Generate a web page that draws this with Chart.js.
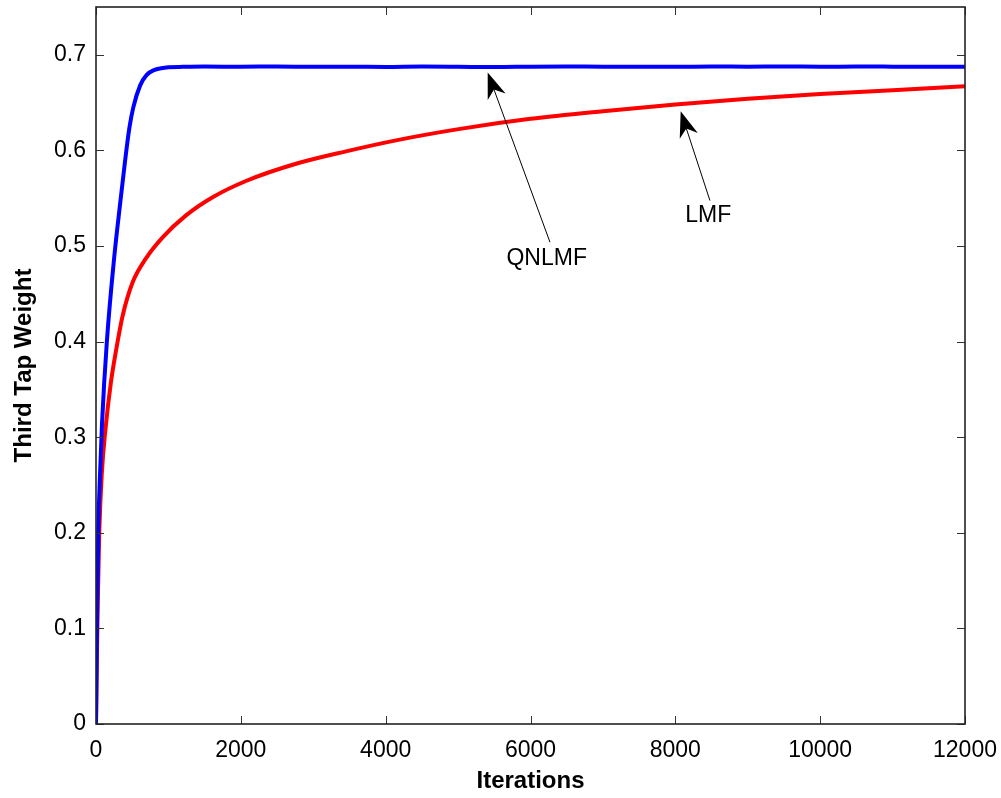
<!DOCTYPE html>
<html>
<head>
<meta charset="utf-8">
<title>Third Tap Weight</title>
<script src="https://cdn.jsdelivr.net/npm/chart.js@4.4.0/dist/chart.umd.min.js"></script>
<style>
    html, body { margin: 0; padding: 0; background: #fff; }
    #wrap { width: 1001px; height: 798px; }
</style>
</head>
<body>
<div id="wrap"><canvas id="tapChart" width="1001" height="798"></canvas></div>
<script>
// QNLMF learning curve (iteration, third tap weight)
const qnlmfIter = [0, 15, 32, 55, 83, 150, 250, 345, 400, 460, 515, 610, 700, 800, 900, 1000, 1200, 1500,
    2000, 2500, 3000, 3500, 4000, 4500, 5000, 5500, 6000, 6500, 7000, 7500, 8000, 8500, 9000,
    9500, 10000, 10500, 11000, 11500, 12000];
const qnlmfWeight = [0, 0.115, 0.204, 0.26, 0.314, 0.4, 0.487, 0.552, 0.588, 0.623, 0.645, 0.668, 0.679, 0.684, 0.686, 0.687, 0.6874, 0.6877,
    0.6875, 0.6878, 0.6874, 0.6876, 0.6873, 0.6877, 0.6875, 0.6872, 0.6876, 0.6878, 0.6875, 0.6876, 0.6874, 0.6877, 0.6876,
    0.6878, 0.6875, 0.6877, 0.6876, 0.6874, 0.6876];

// LMF learning curve
const lmfIter = [0, 10, 25, 45, 80, 129, 207, 280, 368, 506, 690, 920, 1243, 1611, 2071, 2762,
    3452, 4143, 5028, 6000, 7000, 8000, 9000, 10000, 11000, 12000];
const lmfWeight = [0, 0.06, 0.13, 0.2, 0.262, 0.307, 0.358, 0.392, 0.427, 0.462, 0.487, 0.509, 0.532, 0.551, 0.568, 0.586,
    0.599, 0.6105, 0.6225, 0.633, 0.641, 0.648, 0.654, 0.659, 0.663, 0.667];

// axis ticks
const xTicks = [0, 2000, 4000, 6000, 8000, 10000, 12000];
const yTicks = [0, 0.1, 0.2, 0.3, 0.4, 0.5, 0.6, 0.7];

// arrow annotations: label, arrow tip, arrow tail, text centre (data units)
const noteLabels = ['QNLMF', 'LMF'];
const noteTips = [[5409, 0.6816], [8074, 0.641]];
const noteTails = [[6269, 0.504], [8478, 0.5475]];
const noteTexts = [[6224, 0.4866], [8455, 0.5318]];

const FONT = "'Liberation Sans', Arial, Helvetica, sans-serif";

function toPoints(xs, ys) {
    return xs.map((v, i) => ({ x: v, y: ys[i] }));
}

// box around the plot with inward tick marks on all four sides
const framePlugin = {
    id: 'frame',
    afterDatasetsDraw(chart) {
        const { ctx, chartArea: a, scales: { x, y } } = chart;
        const len = 8;
        ctx.save();
        ctx.strokeStyle = '#333';
        ctx.lineWidth = 1;
        ctx.beginPath();
        xTicks.forEach(v => {
            const px = Math.round(x.getPixelForValue(v)) + 0.5;
            ctx.moveTo(px, a.bottom); ctx.lineTo(px, a.bottom - len);
            ctx.moveTo(px, a.top); ctx.lineTo(px, a.top + len);
        });
        yTicks.forEach(v => {
            const py = Math.round(y.getPixelForValue(v)) + 0.5;
            ctx.moveTo(a.left, py); ctx.lineTo(a.left + len, py);
            ctx.moveTo(a.right, py); ctx.lineTo(a.right - len, py);
        });
        ctx.stroke();
        ctx.strokeStyle = '#222';
        ctx.lineWidth = 1.6;
        ctx.strokeRect(a.left, a.top, a.right - a.left, a.bottom - a.top);
        ctx.restore();
    }
};

// text labels with notched arrows pointing at the curves
const arrowPlugin = {
    id: 'arrowNotes',
    afterDatasetsDraw(chart) {
        const { ctx, scales: { x, y } } = chart;
        ctx.save();
        noteLabels.forEach((label, i) => {
            const tx = x.getPixelForValue(noteTips[i][0]);
            const ty = y.getPixelForValue(noteTips[i][1]);
            const sx = x.getPixelForValue(noteTails[i][0]);
            const sy = y.getPixelForValue(noteTails[i][1]);
            const dx = tx - sx, dy = ty - sy;
            const d = Math.hypot(dx, dy);
            const ux = dx / d, uy = dy / d;
            const nx = -uy, ny = ux;
            const headLen = 26, headHalf = 9.5;

            ctx.strokeStyle = '#000';
            ctx.lineWidth = 1;
            ctx.beginPath();
            ctx.moveTo(sx, sy);
            ctx.lineTo(tx - ux * headLen * 0.6, ty - uy * headLen * 0.6);
            ctx.stroke();

            ctx.fillStyle = '#000';
            ctx.beginPath();
            ctx.moveTo(tx, ty);
            ctx.lineTo(tx - ux * headLen + nx * headHalf, ty - uy * headLen + ny * headHalf);
            ctx.lineTo(tx - ux * headLen * 0.7, ty - uy * headLen * 0.7);
            ctx.lineTo(tx - ux * headLen - nx * headHalf, ty - uy * headLen - ny * headHalf);
            ctx.closePath();
            ctx.fill();

            ctx.font = '23px ' + FONT;
            ctx.textAlign = 'center';
            ctx.textBaseline = 'middle';
            ctx.fillText(label, x.getPixelForValue(noteTexts[i][0]), y.getPixelForValue(noteTexts[i][1]));
        });
        ctx.restore();
    }
};

const ctx = document.getElementById('tapChart').getContext('2d');

new Chart(ctx, {
    type: 'line',
    data: {
        datasets: [{
            label: 'QNLMF',
            data: toPoints(qnlmfIter, qnlmfWeight),
            borderColor: '#0000ff',
            borderWidth: 4,
            pointRadius: 0,
            cubicInterpolationMode: 'monotone',
            fill: false
        }, {
            label: 'LMF',
            data: toPoints(lmfIter, lmfWeight),
            borderColor: '#ff0000',
            borderWidth: 4,
            pointRadius: 0,
            cubicInterpolationMode: 'monotone',
            fill: false
        }]
    },
    options: {
        responsive: false,
        animation: false,
        layout: { padding: { left: 0, right: 36, top: 7, bottom: 0 } },
        plugins: {
            legend: { display: false },
            tooltip: { enabled: false }
        },
        scales: {
            x: {
                type: 'linear',
                min: 0,
                max: 12000,
                afterBuildTicks: scale => { scale.ticks = xTicks.map(v => ({ value: v })); },
                afterFit: scale => {
                    scale.height = 74;
                    scale.paddingLeft = 0;
                    scale.paddingRight = 0;
                },
                grid: { display: false, drawTicks: false },
                border: { display: false },
                ticks: {
                    padding: 13,
                    color: '#000',
                    maxRotation: 0,
                    font: { family: FONT, size: 23 },
                    callback: v => String(v)
                },
                title: {
                    display: true,
                    text: 'Iterations',
                    color: '#000',
                    padding: { top: 0, bottom: 2 },
                    font: { family: FONT, size: 24, weight: 'bold' }
                }
            },
            y: {
                min: 0,
                max: 0.75,
                afterBuildTicks: scale => { scale.ticks = yTicks.map(v => ({ value: v })); },
                afterFit: scale => {
                    scale.width = 96;
                    scale.paddingTop = 0;
                    scale.paddingBottom = 0;
                },
                grid: { display: false, drawTicks: false },
                border: { display: false },
                ticks: {
                    padding: 10,
                    color: '#000',
                    font: { family: FONT, size: 23 },
                    callback: v => String(v)
                },
                title: {
                    display: true,
                    text: 'Third Tap Weight',
                    color: '#000',
                    padding: { top: 10, bottom: 0 },
                    font: { family: FONT, size: 24, weight: 'bold' }
                }
            }
        }
    },
    plugins: [framePlugin, arrowPlugin]
});
</script>
</body>
</html>
